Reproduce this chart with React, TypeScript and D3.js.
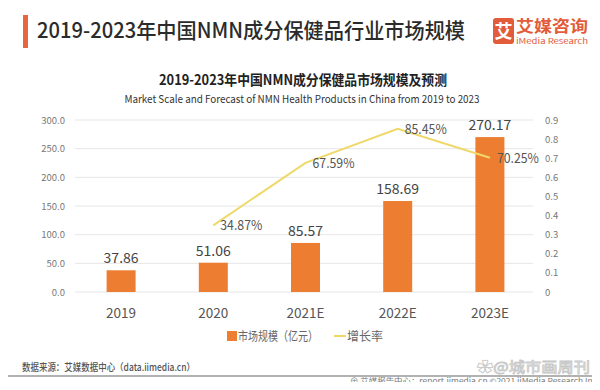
import React from 'react';
import * as d3 from 'd3';

// chart data
const years = ['2019', '2020', '2021E', '2022E', '2023E'];
const marketSize = [37.86, 51.06, 85.57, 158.69, 270.17];
const growthYears = ['2020', '2021E', '2022E', '2023E'];
const growthRate = [0.3487, 0.6759, 0.8545, 0.7025];
const leftTicks = [0, 50, 100, 150, 200, 250, 300];
const rightTicks = [0, 0.1, 0.2, 0.3, 0.4, 0.5, 0.6, 0.7, 0.8, 0.9];

const FONT = '"Noto Sans CJK SC", "Noto Sans", sans-serif';
const ORANGE = '#ED7D31';
const YELLOW = '#EED86A';

export default function App() {
  const x = d3.scaleBand<string>().domain(years).range([75, 536]);
  const yL = d3.scaleLinear().domain([0, 300]).range([292, 120]);
  const yR = d3.scaleLinear().domain([0, 0.9]).range([292, 120]);
  const barW = 29;
  const cx = (d: string) => (x(d) as number) + x.bandwidth() / 2;

  const line = d3.line<number>()
    .x((d, i) => cx(growthYears[i]))
    .y(d => yR(d));

  return (
    <div style={{ margin: -8 }}>
      <svg width={600} height={390} style={{ display: 'block', fontFamily: FONT }}>
        <rect x={0} y={0} width={600} height={390} fill='#ffffff' />

  {/* Header */}
        <rect x={23} y={15} width={5} height={33} fill='#E8663D' />
        <text x={37} y={38} fontSize={21} fill='#2b2b2b' fontWeight={500}
          textLength={428} lengthAdjust='spacingAndGlyphs'>
          2019-2023年中国NMN成分保健品行业市场规模
        </text>

  {/* Logo */}
        <rect x={493} y={18} width={21} height={26} rx={3} fill='#E25B3A' />
        <text x={503.5} y={37.5} fontSize={18} fill='#ffffff' textAnchor='middle' fontWeight={700}>艾</text>
        <text x={516} y={32} fontSize={16} fill='#E25B3A' fontWeight={700}
          textLength={72} lengthAdjust='spacingAndGlyphs'>艾媒咨询</text>
        <text x={516} y={43.5} fontSize={7.5} fill='#E25B3A'
          textLength={72} lengthAdjust='spacingAndGlyphs'>iMedia Research</text>

  {/* Chart titles */}
        <text x={303} y={85} fontSize={14} fontWeight={700} fill='#222' textAnchor='middle'
          textLength={288} lengthAdjust='spacingAndGlyphs'>
          2019-2023年中国NMN成分保健品市场规模及预测
        </text>
        <text x={302} y={103} fontSize={11} fill='#333' textAnchor='middle'
          textLength={355} lengthAdjust='spacingAndGlyphs'>
          Market Scale and Forecast of NMN Health Products in China from 2019 to 2023
        </text>

  {/* Grid + axes */}
        {leftTicks.map(t => (
          <g key={t}>
            <line x1={75} x2={533} y1={yL(t)} y2={yL(t)} stroke='#e6e6e6' strokeWidth={1} />
            <text x={65} y={yL(t) + 3.5} fontSize={9.5} fill='#777' textAnchor='end'>{t.toFixed(1)}</text>
          </g>
        ))}
        {rightTicks.map(t => (
          <text key={t} x={545} y={yR(t) + 3.5} fontSize={9.5} fill='#777'>
            {t === 0 ? '0' : t.toFixed(1)}
          </text>
        ))}

  {/* Bars */}
        {years.map((d, i) => (
          <g key={d}>
            <rect x={cx(d) - barW / 2} y={yL(marketSize[i])} width={barW}
              height={yL(0) - yL(marketSize[i])} fill={ORANGE} />
            <text x={cx(d)} y={yL(marketSize[i]) - 7} fontSize={14} fill='#444' textAnchor='middle'>
              {marketSize[i].toFixed(2)}
            </text>
            <text x={cx(d)} y={318} fontSize={13.5} fill='#555' textAnchor='middle'>{d}</text>
          </g>
        ))}

  {/* Growth line */}
        <path d={line(growthRate) as string} fill='none' stroke={YELLOW} strokeWidth={2} />
        {growthRate.map((v, i) => (
          <text key={i} x={cx(growthYears[i]) + 7} y={yR(v) + 5} fontSize={13.5} fill='#555'
            textLength={42} lengthAdjust='spacingAndGlyphs'>
            {(v * 100).toFixed(2)}%
          </text>
        ))}

  {/* Legend */}
        <rect x={227} y={331} width={10} height={10} fill={ORANGE} />
        <text x={238} y={341} fontSize={12.5} fill='#666'
          textLength={80} lengthAdjust='spacingAndGlyphs'>市场规模（亿元）</text>
        <line x1={334} x2={346} y1={336} y2={336} stroke={YELLOW} strokeWidth={2} />
        <text x={347} y={341} fontSize={12.5} fill='#666'
          textLength={36} lengthAdjust='spacingAndGlyphs'>增长率</text>

  {/* Footer */}
        <text x={22} y={371} fontSize={10} fill='#555' fontWeight={500}
          textLength={173} lengthAdjust='spacingAndGlyphs'>数据来源：艾媒数据中心（data.iimedia.cn）</text>
        <line x1={0} x2={600} y1={376} y2={376} stroke='#999' strokeWidth={1.5} />
        <text x={477} y={372} fontSize={14} fill='none' stroke='#c8c8c8' strokeWidth={0.8}
          textLength={113} lengthAdjust='spacingAndGlyphs'>✿@城市画周刊</text>
        <text x={597} y={384} fontSize={7.5} fill='#777' textAnchor='end'
          textLength={247} lengthAdjust='spacingAndGlyphs'>
          ⊕ 艾媒报告中心：report.iimedia.cn   ©2021  iiMedia Research  Inc
        </text>
      </svg>
    </div>
  );
}
